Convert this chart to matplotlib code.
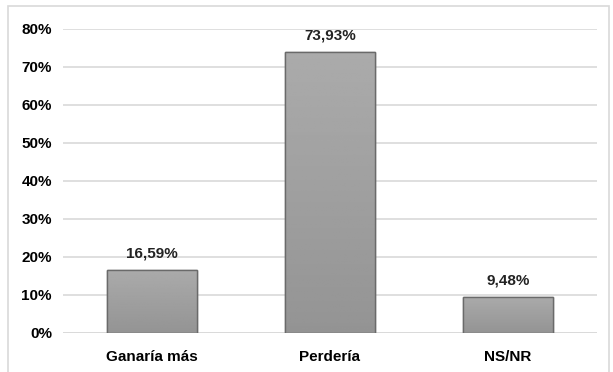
import matplotlib
matplotlib.use('Agg')
import matplotlib.pyplot as plt
import numpy as np
from matplotlib.patches import Rectangle

categorias = ['Ganaría más', 'Perdería', 'NS/NR']
valores = [16.59, 73.93, 9.48]
etiquetas = ['16,59%', '73,93%', '9,48%']
yticks = [0, 10, 20, 30, 40, 50, 60, 70, 80]
ytick_labels = ['0%', '10%', '20%', '30%', '40%', '50%', '60%', '70%', '80%']

plt.rcParams['font.family'] = ['Liberation Sans Narrow', 'Liberation Sans', 'DejaVu Sans']

fig = plt.figure(figsize=(6.13, 3.72), dpi=100)
ax = fig.add_axes([63/613, 1 - 333/372, 534/613, 304/372])

x = np.arange(len(categorias))
ancho = 0.51
barras = ax.bar(x, valores, width=ancho, color='#a0a0a0', edgecolor='#6a6a6a',
                linewidth=1.0, zorder=3)

# gradiente suave en cada barra
grad = np.linspace(0.58, 0.67, 100).reshape(-1, 1)
for b in barras:
    x0, w, h = b.get_x(), b.get_width(), b.get_height()
    im = ax.imshow(grad, cmap='gray', vmin=0, vmax=1, aspect='auto',
                   extent=[x0, x0 + w, 0, h], origin='lower', zorder=3.5)
    im.set_clip_path(b)
    ax.add_patch(Rectangle((x0, 0), w, h, fill=False, edgecolor='#6a6a6a',
                           linewidth=1.0, zorder=4))

for xi, v, t in zip(x, valores, etiquetas):
    ax.text(xi, v + 2.6, t, ha='center', va='bottom', fontsize=11,
            fontweight='bold', color='#222222')

ax.set_xlim(-0.5, 2.5)
ax.set_ylim(0, 80)
ax.set_yticks(yticks)
ax.set_yticklabels(ytick_labels, fontsize=11, fontweight='bold')
ax.set_xticks(x)
ax.set_xticklabels(categorias, fontsize=11, fontweight='bold')
ax.tick_params(axis='y', length=0, pad=8)
ax.tick_params(axis='x', length=0, pad=12)
ax.grid(axis='y', color='#d9d9d9', linewidth=1.2, zorder=0)
for s in ax.spines.values():
    s.set_visible(False)
ax.axhline(0, color='#d9d9d9', linewidth=1.2, zorder=1)

# borde del área del gráfico
fig.patches.append(Rectangle((8/613, -0.01), 601/613, 1 - 6/372 + 0.01,
                             transform=fig.transFigure, fill=False,
                             edgecolor='#d9d9d9', linewidth=1.2))

fig.savefig('out.png', dpi=100)
